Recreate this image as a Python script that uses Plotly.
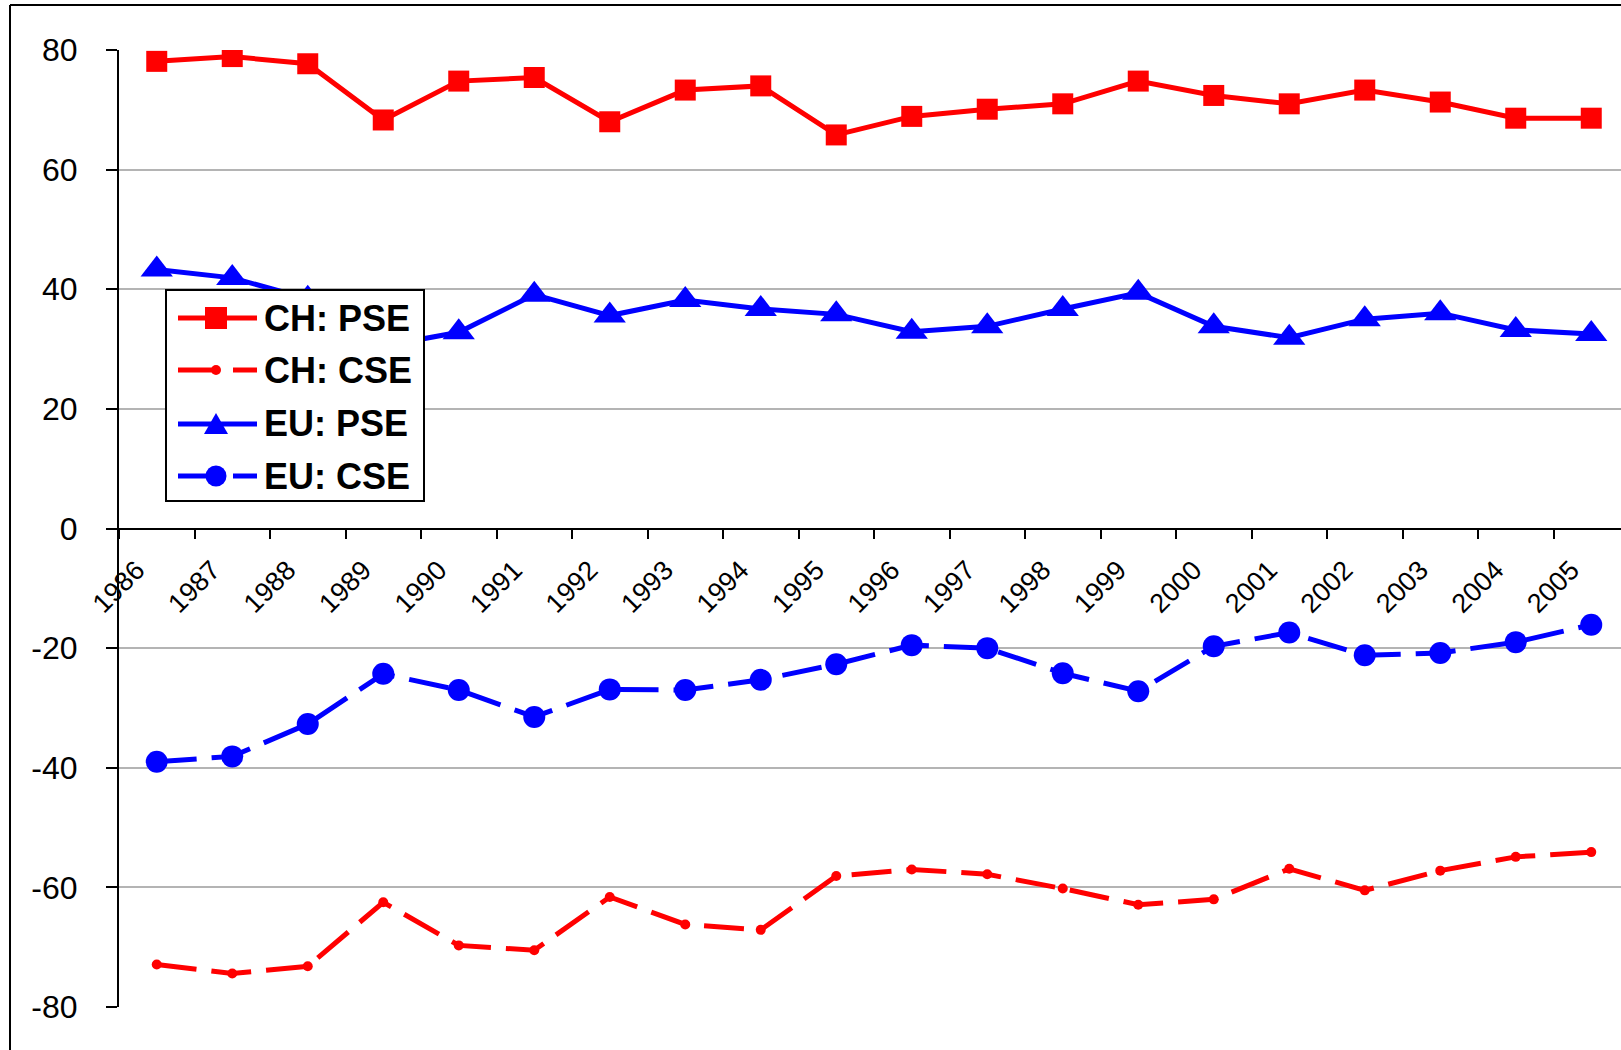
import plotly.graph_objects as go

# ---------------- data ----------------
years = ["1986", "1987", "1988", "1989", "1990", "1991", "1992", "1993", "1994", "1995",
         "1996", "1997", "1998", "1999", "2000", "2001", "2002", "2003", "2004", "2005"]

ch_pse = [78.1, 78.9, 77.7, 68.3, 74.8, 75.4, 68.0, 73.3, 74.0, 65.8,
          68.9, 70.1, 71.0, 74.8, 72.4, 71.0, 73.3, 71.3, 68.6, 68.6]
ch_cse = [-72.9, -74.4, -73.2, -62.5, -69.7, -70.5, -61.6, -66.2, -67.1, -58.1,
          -57.0, -57.8, -60.2, -62.9, -62.0, -56.9, -60.5, -57.2, -54.9, -54.1]
eu_pse = [43.3, 41.9, 38.4, 30.5, 32.8, 39.1, 35.6, 38.2, 36.7, 35.8,
          32.9, 33.8, 36.7, 39.4, 33.8, 31.9, 35.0, 36.0, 33.2, 32.5]
eu_cse = [-39.0, -38.1, -32.7, -24.3, -27.0, -31.5, -26.9, -27.0, -25.3, -22.7,
          -19.5, -20.0, -24.2, -27.2, -19.7, -17.4, -21.2, -20.8, -19.0, -16.1]

y_tickvals = [-80, -60, -40, -20, 0, 20, 40, 60, 80]
y_ticktext = ["-80", "-60", "-40", "-20", "0", "20", "40", "60", "80"]

legend_names = ["CH: PSE", "CH: CSE", "EU: PSE", "EU: CSE"]

# ---------------- layout geometry ----------------
W, H = 1621, 1050
L, T = 119, 50
PB = 1007
PW = W - L
PH = PB - T
FONT = "Liberation Sans, Arial, sans-serif"
RED = "#FF0000"
BLUE = "#0000FF"
LW = 5
DASH = "40px,15px"


def px_x(p):
    return (p - L) / PW


def px_y(p):
    return 1 - (p - T) / PH


fig = go.Figure()

fig.add_trace(go.Scatter(x=years, y=ch_pse, name=legend_names[0], mode="lines+markers",
                         line=dict(color=RED, width=LW),
                         marker=dict(symbol="square", size=21, color=RED)))
fig.add_trace(go.Scatter(x=years, y=ch_cse, name=legend_names[1], mode="lines+markers",
                         line=dict(color=RED, width=LW, dash=DASH),
                         marker=dict(symbol="circle", size=10, color=RED)))
fig.add_trace(go.Scatter(x=years, y=eu_pse, name=legend_names[2], mode="lines+markers",
                         line=dict(color=BLUE, width=LW),
                         marker=dict(symbol="triangle-up", size=28, color=BLUE)))
fig.add_trace(go.Scatter(x=years, y=eu_cse, name=legend_names[3], mode="lines+markers",
                         line=dict(color=BLUE, width=LW, dash=DASH),
                         marker=dict(symbol="circle", size=22, color=BLUE)))

# category width in px (20 categories -> boundary at 119, width 75.5)
cat_w = 75.5
x_max = -0.5 + PW / cat_w

shapes = []
annotations = []

# outer chart-area border (only top and left visible)
shapes.append(dict(type="line", xref="paper", yref="paper",
                   x0=px_x(10), x1=px_x(W + 5), y0=px_y(5), y1=px_y(5),
                   line=dict(color="black", width=2)))
shapes.append(dict(type="line", xref="paper", yref="paper",
                   x0=px_x(10), x1=px_x(10), y0=px_y(5), y1=px_y(H + 5),
                   line=dict(color="black", width=2)))

# custom legend
shapes.append(dict(type="rect", xref="paper", yref="paper",
                   x0=px_x(166), x1=px_x(424), y0=px_y(290), y1=px_y(501),
                   fillcolor="white", line=dict(color="black", width=2)))
rows = [318, 370, 424, 476]
lx0, lx1, mx, tx = 178, 257, 216, 262
colors = [RED, RED, BLUE, BLUE]
dashes = ["solid", DASH, "solid", DASH]
for i, ry in enumerate(rows):
    shapes.append(dict(type="line", xref="paper", yref="paper",
                       x0=px_x(lx0), x1=px_x(lx1), y0=px_y(ry), y1=px_y(ry),
                       line=dict(color=colors[i], width=LW, dash=dashes[i])))
    annotations.append(dict(xref="paper", yref="paper", x=px_x(tx), y=px_y(ry),
                            xanchor="left", yanchor="middle", showarrow=False,
                            text="<b>" + legend_names[i] + "</b>",
                            font=dict(family=FONT, size=36, color="black")))
# square
s = 11
shapes.append(dict(type="rect", xref="paper", yref="paper",
                   x0=px_x(mx - s), x1=px_x(mx + s), y0=px_y(rows[0] - s), y1=px_y(rows[0] + s),
                   fillcolor=RED, line=dict(width=0)))
# small dot
r = 5
shapes.append(dict(type="circle", xref="paper", yref="paper",
                   x0=px_x(mx - r), x1=px_x(mx + r), y0=px_y(rows[1] - r), y1=px_y(rows[1] + r),
                   fillcolor=RED, line=dict(width=0)))
# triangle
ty = rows[2]
path = "M {},{} L {},{} L {},{} Z".format(px_x(mx - 12), px_y(ty + 10), px_x(mx + 12), px_y(ty + 10),
                                          px_x(mx), px_y(ty - 11))
shapes.append(dict(type="path", xref="paper", yref="paper", path=path,
                   fillcolor=BLUE, line=dict(width=0)))
# circle
r = 10.5
shapes.append(dict(type="circle", xref="paper", yref="paper",
                   x0=px_x(mx - r), x1=px_x(mx + r), y0=px_y(rows[3] - r), y1=px_y(rows[3] + r),
                   fillcolor=BLUE, line=dict(width=0)))

fig.update_layout(
    width=W, height=H,
    margin=dict(l=L, r=0, t=T, b=H - PB, pad=0),
    paper_bgcolor="white", plot_bgcolor="white",
    showlegend=False,
    font=dict(family=FONT, color="black"),
    shapes=shapes,
    annotations=annotations,
    xaxis=dict(type="category", categoryarray=years, range=[-0.5, x_max],
               anchor="free", position=0.5,
               showline=True, linecolor="black", linewidth=2,
               ticks="outside", ticklen=9, tickwidth=2, tickcolor="black",
               tickson="boundaries", tickangle=-45,
               ticklabelstandoff=14, ticklabelshift=-20,
               tickfont=dict(family=FONT, size=27, color="black"),
               showgrid=False, zeroline=False, automargin=False),
    yaxis=dict(range=[-80, 80], tickvals=y_tickvals, ticktext=y_ticktext,
               showline=True, linecolor="black", linewidth=2,
               ticks="outside", ticklen=11, tickwidth=2, tickcolor="black",
               tickfont=dict(family=FONT, size=32, color="black"),
               ticklabelstandoff=22,
               showgrid=True, gridcolor="#b4b4b4", gridwidth=1.5,
               zeroline=False, automargin=False),
)

fig.write_html("out.html", config={"displayModeBar": False},
               post_script="document.body.style.margin='0';document.body.style.overflow='hidden';")
